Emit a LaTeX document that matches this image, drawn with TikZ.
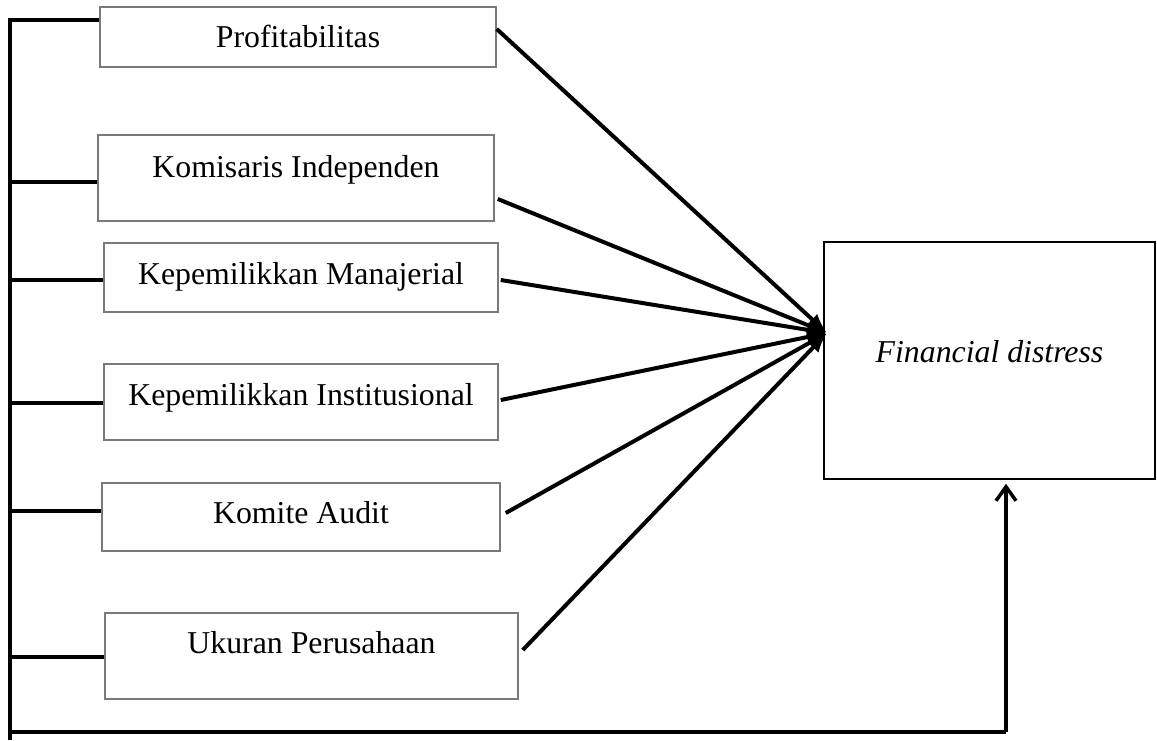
\documentclass[tikz,border=0pt]{standalone}
\usepackage{fontspec}
\setmainfont{Liberation Serif}
\usepackage{tikz}
\usetikzlibrary{arrows.meta}
\definecolor{BoxGray}{HTML}{7A7A7A}

\begin{document}
\begin{tikzpicture}[x=1pt,y=-1pt,>=Latex,font=\fontsize{31.8}{38}\selectfont]
\tikzstyle{block}=[rectangle,draw=BoxGray,line width=1.5pt,fill=white,inner sep=0pt,text height=21pt,text depth=0pt]
\tikzstyle{link}=[line width=4pt]
\tikzstyle{toFD}=[line width=4pt,-{Latex[length=20pt,width=15pt]}]
\useasboundingbox (0,0) rectangle (1157,740);
\node[block,minimum width=396pt,minimum height=60pt] (a) at (298,37) {Profitabilitas};
\node[block,minimum width=396pt,minimum height=86pt,text depth=22pt] (b) at (296,178) {Komisaris Independen};
\node[block,minimum width=394pt,minimum height=69pt,text depth=7pt] (c) at (301,277.5) {Kepemilikkan Manajerial};
\node[block,minimum width=394pt,minimum height=76pt,text depth=14pt] (d) at (301,402) {Kepemilikkan Institusional};
\node[block,minimum width=398pt,minimum height=68pt,text depth=8pt] (e) at (301,517) {Komite Audit};
\node[block,minimum width=413pt,minimum height=86pt,text depth=26pt] (f) at (311.5,656) {Ukuran Perusahaan};
\node[block,draw=black,minimum width=331pt,minimum height=237pt,text depth=18pt] (fd) at (989.5,360.5) {\textit{Financial distress}};
\coordinate (top) at (10,20);
\coordinate (bot) at (10,740);
\coordinate (corner) at (10,732);
\coordinate (tip) at (827,333);
% left bracket
\draw[line width=4.5pt] (top -| a.west) -- (top) -- (bot);
\draw[link] ([yshift=-4pt]b.west -| top) -- ([yshift=-4pt]b.west);
\draw[link] ([yshift=-2.5pt]c.west -| top) -- ([yshift=-2.5pt]c.west);
\draw[link] ([yshift=-1pt]d.west -| top) -- ([yshift=-1pt]d.west);
\draw[link] ([yshift=6pt]e.west -| top) -- ([yshift=6pt]e.west);
\draw[link] ([yshift=-1pt]f.west -| top) -- ([yshift=-1pt]f.west);
% arrows into Financial distress
\draw[toFD] ([yshift=8pt]a.east) -- (tip);
\draw[toFD] ([xshift=3pt,yshift=-21pt]b.east) -- (tip);
\draw[toFD] ([xshift=2pt,yshift=-2.5pt]c.east) -- (tip);
\draw[toFD] ([xshift=2pt,yshift=2pt]d.east) -- (tip);
\draw[toFD] ([xshift=5pt,yshift=4pt]e.east) -- (tip);
\draw[toFD] ([xshift=4pt,yshift=6pt]f.east) -- (tip);
% bottom line back up
\draw[line width=4.5pt] (corner) -- (corner -| 1006,0);
\draw[line width=3.5pt,-{Straight Barb[length=14pt,width=20pt]}] (corner -| 1006,0) -- ([xshift=16.5pt,yshift=-4pt]fd.south);
\end{tikzpicture}
\end{document}
